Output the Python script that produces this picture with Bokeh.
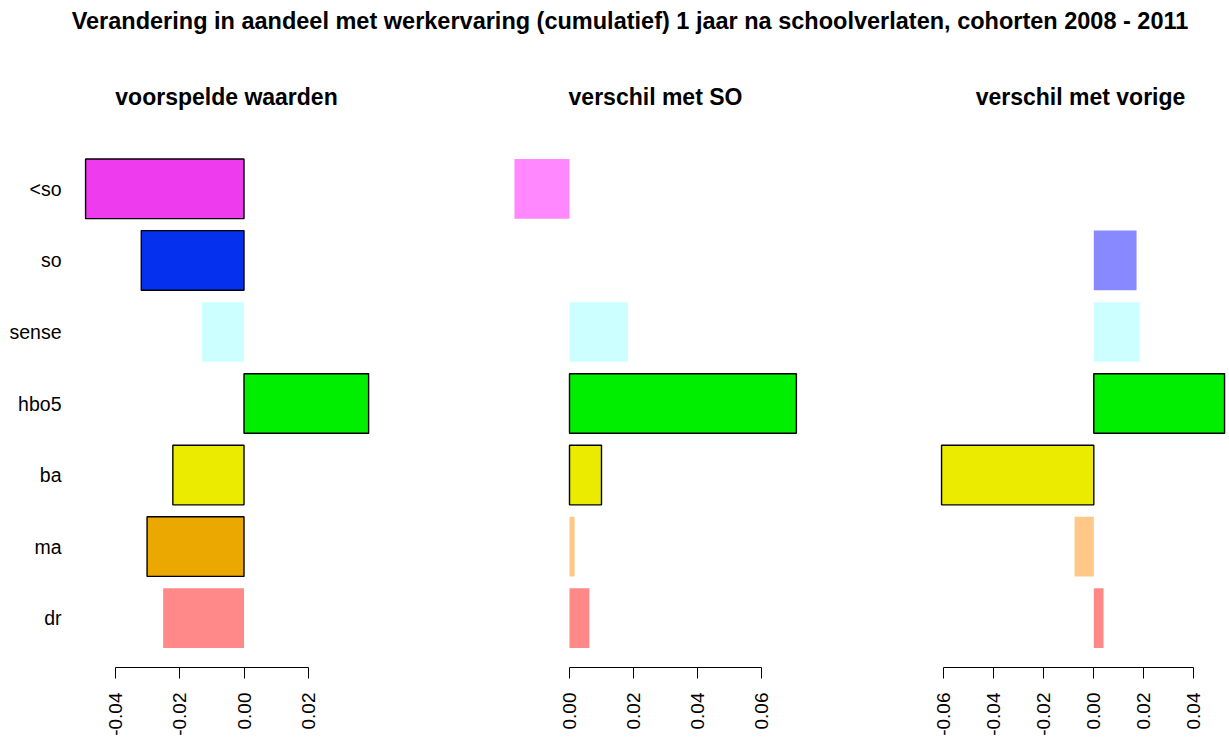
import math
from bokeh.plotting import figure
from bokeh.models import FactorRange, Range1d, FixedTicker, PrintfTickFormatter, ColumnDataSource
from bokeh.layouts import column, row
from bokeh.embed import file_html
from bokeh.resources import INLINE

# ---------------- data ----------------
main_title = "Verandering in aandeel met werkervaring (cumulatief) 1 jaar na schoolverlaten, cohorten 2008 - 2011"
panel_titles = ["voorspelde waarden", "verschil met SO", "verschil met vorige"]

categories = ["<so", "so", "sense", "hbo5", "ba", "ma", "dr"]

voorspeld = [-0.0492, -0.0319, -0.0131, 0.0387, -0.0221, -0.0301, -0.0251]
verschil_so = [-0.0172, 0.0, 0.0183, 0.0709, 0.0100, 0.0016, 0.0062]
verschil_vorige = [0.0, 0.0171, 0.0183, 0.0523, -0.0609, -0.0077, 0.0039]

sig_voorspeld = [True, True, False, True, True, True, False]
sig_so = [False, False, False, True, True, False, False]
sig_vorige = [False, False, False, True, True, False, False]

ticks_voorspeld = [-0.04, -0.02, 0.00, 0.02]
ticks_so = [0.00, 0.02, 0.04, 0.06]
ticks_vorige = [-0.06, -0.04, -0.02, 0.00, 0.02, 0.04]

# ---------------- styles ----------------
full_colors = ["#EE3BEE", "#0430EE", "#00EEEE", "#00EE00", "#EBEB00", "#EBA800", "#EE3B3B"]
light_colors = ["#FF88FF", "#8888FF", "#CCFFFF", "#88FF88", "#FFFF88", "#FFC888", "#FF8888"]

FONT = "Liberation Sans"


def make_panel(title, vals, sig, ticks, xr, frame_w, border_l, border_r, show_y):
    y_range = FactorRange(factors=list(reversed(categories)),
                          range_padding=0.19, range_padding_units="absolute")
    p = figure(y_range=y_range, x_range=Range1d(*xr),
               frame_width=frame_w, frame_height=528,
               min_border_left=border_l, min_border_right=border_r,
               min_border_top=91, min_border_bottom=70,
               toolbar_location=None, output_backend="svg",
               title=title)
    p.outline_line_color = None
    p.grid.visible = False
    p.background_fill_color = "white"
    p.border_fill_color = "white"

    p.title.align = "center"
    p.title.text_font = FONT
    p.title.text_font_size = "23px"
    p.title.text_font_style = "bold"
    p.title.text_color = "black"
    p.title.standoff = 60

    src = ColumnDataSource(dict(
        cat=categories,
        val=vals,
        zero=[0.0] * len(vals),
        fill=[f if s else l for f, l, s in zip(full_colors, light_colors, sig)],
        line=["black" if s else None for s in sig],
    ))
    p.hbar(y="cat", left="zero", right="val", height=0.833, source=src,
           fill_color="fill", line_color="line", line_width=1.4)

    ax = p.xaxis[0]
    ax.ticker = FixedTicker(ticks=ticks)
    ax.bounds = (ticks[0], ticks[-1])
    ax.formatter = PrintfTickFormatter(format="%.2f")
    ax.major_label_orientation = math.pi / 2
    ax.major_tick_out = 11
    ax.major_tick_in = 0
    ax.minor_tick_in = 0
    ax.minor_tick_out = 0
    ax.major_label_standoff = 14
    ax.major_label_text_font = FONT
    ax.major_label_text_font_size = "19px"
    ax.major_label_text_color = "black"
    ax.axis_line_color = "black"
    ax.major_tick_line_color = "black"

    yax = p.yaxis[0]
    if show_y:
        yax.axis_line_color = None
        yax.major_tick_line_color = None
        yax.minor_tick_line_color = None
        yax.major_tick_out = 0
        yax.major_tick_in = 0
        yax.major_label_standoff = 12
        yax.major_label_text_font = FONT
        yax.major_label_text_font_size = "19.5px"
        yax.major_label_text_color = "black"
    else:
        yax.visible = False
    return p


p1 = make_panel(panel_titles[0], voorspeld, sig_voorspeld, ticks_voorspeld,
                (-0.05295, 0.04208), 306, 73, 61, True)
p2 = make_panel(panel_titles[1], verschil_so, sig_so, ticks_so,
                (-0.020625, 0.074375), 304, 63, 63, False)
p3 = make_panel(panel_titles[2], verschil_vorige, sig_vorige, ticks_vorige,
                (-0.06492, 0.05428), 298, 61, 0, False)

top = figure(width=1229, height=48, x_range=(0, 1), y_range=(0, 1),
             toolbar_location=None, output_backend="svg",
             x_axis_location=None, y_axis_location=None,
             min_border=0, min_border_left=30, title=main_title)
top.outline_line_color = None
top.grid.visible = False
top.title.align = "center"
top.title.text_font = FONT
top.title.text_font_size = "23.5px"
top.title.text_font_style = "bold"
top.title.text_color = "black"

layout = column(top, row(p1, p2, p3, spacing=0), spacing=0)

open("out.html", "w").write(file_html(layout, INLINE))
